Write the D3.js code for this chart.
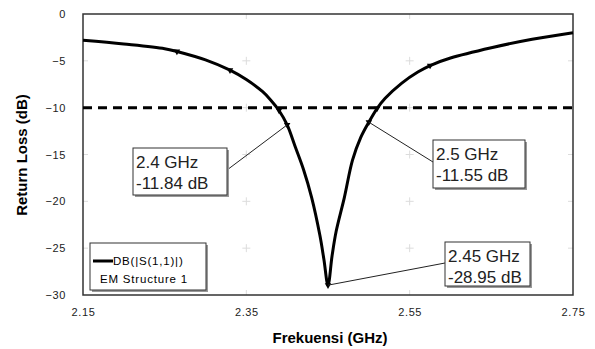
<!DOCTYPE html>
<html>
<head>
<meta charset="utf-8">
<script src="https://cdn.jsdelivr.net/npm/d3@7"></script>
<style>
  body { margin: 0; background: #fff; }
  text { font-family: "Liberation Sans", Arial, sans-serif; }
</style>
</head>
<body>
<svg width="595" height="349"></svg>
<script>
// frequency (GHz) and return loss (dB)
var freq = [2.15, 2.20, 2.25, 2.265, 2.30, 2.33, 2.35, 2.37, 2.38, 2.39, 2.40, 2.41, 2.42, 2.43, 2.44, 2.445, 2.45,
            2.455, 2.46, 2.47, 2.48, 2.49, 2.50, 2.51, 2.52, 2.54, 2.56, 2.575, 2.60, 2.65, 2.70, 2.75];
var loss = [-2.8, -3.2, -3.7, -4.0, -4.9, -6.0, -7.0, -8.3, -9.2, -10.3, -11.84, -14.2, -16.6, -19.6, -23.6, -26.2, -28.95,
            -25.8, -23.2, -19.6, -15.6, -13.2, -11.55, -10.1, -9.0, -7.4, -6.2, -5.5, -4.7, -3.6, -2.7, -2.0];

// small markers along the trace
var markFreq = [2.265, 2.33, 2.39, 2.40, 2.45, 2.50, 2.51, 2.575];

var xTicks = [2.15, 2.35, 2.55, 2.75];
var yTicks = [0, -5, -10, -15, -20, -25, -30];
var limit = -10;

// marker annotations
var notes = [
  { f: 2.40, v: -11.84, l1: "2.4 GHz", l2: "-11.84 dB" },
  { f: 2.50, v: -11.55, l1: "2.5 GHz", l2: "-11.55 dB" },
  { f: 2.45, v: -28.95, l1: "2.45 GHz", l2: "-28.95 dB" }
];
var noteBox = [
  { x: 133, y: 148, w: 94, h: 47, ax: 227, ay: 170 },
  { x: 433, y: 140, w: 92, h: 48, ax: 433, ay: 162 },
  { x: 445, y: 242, w: 85, h: 44, ax: 445, ay: 263 }
];

var svg = d3.select("svg");
var L = 83, T = 14, R = 573, B = 295;

var x = d3.scaleLinear().domain([2.15, 2.75]).range([L, R]);
var y = d3.scaleLinear().domain([-30, 0]).range([B, T]);

// faint tick marks inside the frame
var g = svg.append("g").attr("stroke", "#dcdcdc").attr("stroke-width", 1);
xTicks.slice(1, -1).forEach(function(t) {
  g.append("line").attr("x1", x(t)).attr("x2", x(t)).attr("y1", T).attr("y2", T + 5);
  g.append("line").attr("x1", x(t)).attr("x2", x(t)).attr("y1", B - 5).attr("y2", B);
  yTicks.slice(1, -1).forEach(function(v) {
    g.append("line").attr("x1", x(t) - 4).attr("x2", x(t) + 4).attr("y1", y(v)).attr("y2", y(v));
    g.append("line").attr("x1", x(t)).attr("x2", x(t)).attr("y1", y(v) - 4).attr("y2", y(v) + 4);
  });
});
yTicks.slice(1, -1).forEach(function(v) {
  g.append("line").attr("x1", L).attr("x2", L + 5).attr("y1", y(v)).attr("y2", y(v));
  g.append("line").attr("x1", R - 5).attr("x2", R).attr("y1", y(v)).attr("y2", y(v));
});

// frame
svg.append("rect").attr("x", L).attr("y", T).attr("width", R - L).attr("height", B - T)
  .attr("fill", "none").attr("stroke", "#333").attr("stroke-width", 1.5);

// axes (labels only)
var xAxis = svg.append("g").attr("transform", "translate(0," + (B + 10) + ")")
  .call(d3.axisBottom(x).tickValues(xTicks).tickSize(0).tickFormat(d3.format(".2f")));
var yAxis = svg.append("g").attr("transform", "translate(" + (L - 14) + ",0)")
  .call(d3.axisLeft(y).tickValues(yTicks).tickSize(0).tickFormat(d3.format("d")));
[xAxis, yAxis].forEach(function(a) {
  a.select(".domain").remove();
  a.selectAll("text").attr("font-size", 11).attr("fill", "#222")
    .attr("font-family", "'Liberation Sans', Arial, sans-serif").attr("letter-spacing", 0.6);
});

// axis titles
svg.append("text").attr("x", 330).attr("y", 343).attr("text-anchor", "middle")
  .attr("font-size", 15).attr("font-weight", "bold").text("Frekuensi (GHz)");
svg.append("text").attr("transform", "translate(27,155) rotate(-90)").attr("text-anchor", "middle")
  .attr("font-size", 15).attr("font-weight", "bold").text("Return Loss (dB)");

// -10 dB limit line
svg.append("line").attr("x1", L).attr("x2", R).attr("y1", y(limit)).attr("y2", y(limit))
  .attr("stroke", "#000").attr("stroke-width", 3).attr("stroke-dasharray", "9,6");

// trace
var pts = freq.map(function(f, i) { return [f, loss[i]]; });
var line = d3.line().x(function(d) { return x(d[0]); }).y(function(d) { return y(d[1]); })
  .curve(d3.curveCatmullRom.alpha(0.5));
svg.append("path").datum(pts).attr("d", line)
  .attr("fill", "none").attr("stroke", "#000").attr("stroke-width", 3);

// markers
var lookup = d3.scaleLinear().domain(freq).range(loss);
svg.selectAll(".mk").data(markFreq).enter().append("path").attr("class", "mk")
  .attr("d", d3.symbol().type(d3.symbolTriangle).size(18))
  .attr("transform", function(d) { return "translate(" + x(d) + "," + y(lookup(d)) + ") rotate(180)"; })
  .attr("fill", "#000");

// annotation leaders and boxes
svg.selectAll(".lead").data(notes).enter().append("line").attr("class", "lead")
  .attr("x1", function(d, i) { return noteBox[i].ax; })
  .attr("y1", function(d, i) { return noteBox[i].ay; })
  .attr("x2", function(d) { return x(d.f); })
  .attr("y2", function(d) { return y(d.v); })
  .attr("stroke", "#222").attr("stroke-width", 1);

notes.forEach(function(d, i) {
  var b = noteBox[i];
  svg.append("rect").attr("x", b.x + 2).attr("y", b.y + 2).attr("width", b.w).attr("height", b.h).attr("fill", "#999");
  svg.append("rect").attr("x", b.x).attr("y", b.y).attr("width", b.w).attr("height", b.h)
    .attr("fill", "#fff").attr("stroke", "#333").attr("stroke-width", 1);
  svg.append("text").attr("x", b.x + 3).attr("y", b.y + 20).attr("font-size", 17).attr("fill", "#222").text(d.l1);
  svg.append("text").attr("x", b.x + 3).attr("y", b.y + 41).attr("font-size", 17).attr("fill", "#222").text(d.l2);
});

// legend
var lg = svg.append("g");
lg.append("rect").attr("x", 92).attr("y", 245).attr("width", 116).attr("height", 47).attr("fill", "#999");
lg.append("rect").attr("x", 90).attr("y", 243).attr("width", 116).attr("height", 47)
  .attr("fill", "#fff").attr("stroke", "#333").attr("stroke-width", 1);
lg.append("line").attr("x1", 93).attr("x2", 113).attr("y1", 261).attr("y2", 261)
  .attr("stroke", "#000").attr("stroke-width", 3);
lg.append("text").attr("x", 113).attr("y", 265).attr("font-size", 11.5).attr("letter-spacing", 0.8).text("DB(|S(1,1)|)");
lg.append("text").attr("x", 100).attr("y", 283).attr("font-size", 11.5).attr("letter-spacing", 0.8).text("EM Structure 1");
</script>
</body>
</html>
